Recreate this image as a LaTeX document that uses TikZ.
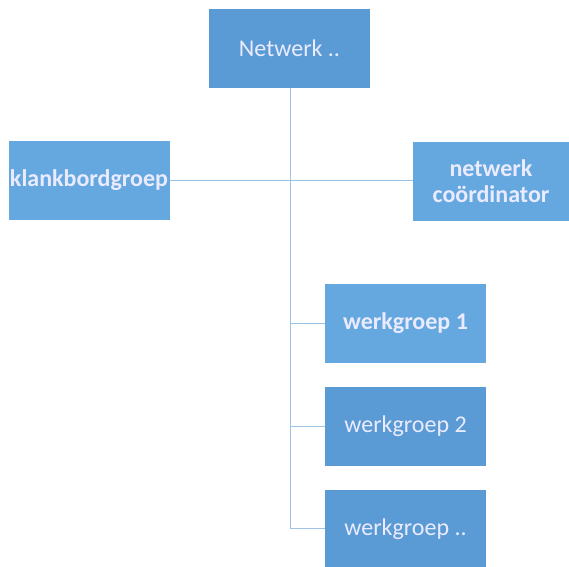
\documentclass[tikz,border=0pt]{standalone}
\usepackage{fontspec}
\setmainfont{Carlito}
\begin{document}
\begin{tikzpicture}[x=1pt,y=-1pt,
  box/.style={fill=#1, draw=none, minimum width=161pt, minimum height=79pt,
    text=white!92!blue, font=\fontsize{24}{27}\selectfont, align=center, inner sep=0pt},
  box/.default={boxblue},
  link/.style={draw=linkblue, line width=1pt}]
\definecolor{boxblue}{HTML}{5B9BD5}
\definecolor{boxlight}{HTML}{65A8E0}
\definecolor{linkblue}{HTML}{9DC3E6}
\useasboundingbox (0,0) rectangle (569,566);
\fill[white] (0,0) rectangle (569,566);
% hierarchy boxes
\node[box] (top) at (289.5,48.5) {Netwerk ..};
\node[box=boxlight] (klank) at (89,180) {\bfseries klankbordgroep};
\node[box=boxlight, minimum width=156pt] (coord) at (491,181) {\bfseries netwerk\\[-1pt]\bfseries coördinator};
\node[box=boxlight] (wg1) at (405.5,323.5) {\bfseries werkgroep 1};
\node[box] (wg2) at (405.5,426) {werkgroep 2};
\node[box, minimum height=78pt] (wg3) at (405.5,529) {werkgroep ..};
% connectors
\coordinate (trunk) at (290,180);
\coordinate (end) at (290,528);
\draw[link] (top.south -| trunk) -- (end) -- (end -| wg3.west);
\draw[link] (klank.east) -- (klank.east -| coord.west);
\draw[link] (wg1.west -| trunk) -- (wg1.west);
\draw[link] (wg2.west -| trunk) -- (wg2.west);
\end{tikzpicture}
\end{document}
